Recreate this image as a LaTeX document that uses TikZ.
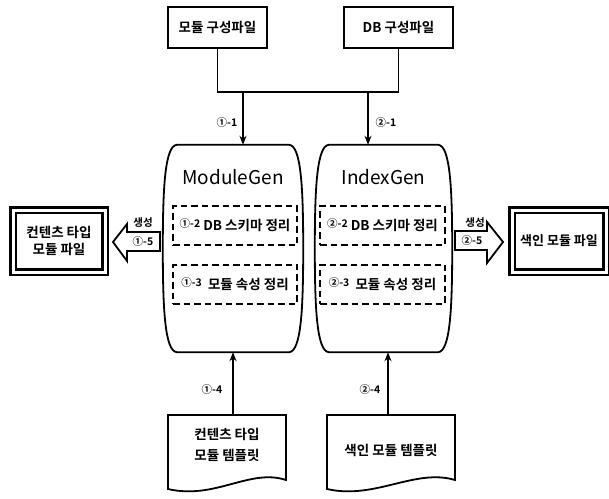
\documentclass[tikz,border=0pt]{standalone}
\usepackage{fontspec}
\newfontfamily\kr{Noto Sans CJK KR}[BoldFont={* Bold}]
\usetikzlibrary{arrows.meta}
\usetikzlibrary{calc}

\newcommand\kbf{\kr\bfseries\fontsize{13.5}{17}\selectfont}
\newcommand\ksm{\kr\bfseries\fontsize{10.5}{12}\selectfont}
% barrel outline round an empty node
\newcommand\drawbarrel[1]{%
  \draw[line width=1.8pt] ($(#1.north west)+(14,0)$) -- ($(#1.north east)+(-14,0)$)
    .. controls ($(#1.north east)+(-2,1)$) and ($(#1.east)+(0,-60)$) .. (#1.east)
    .. controls ($(#1.east)+(0,60)$) and ($(#1.south east)+(-2,-1)$) .. ($(#1.south east)+(-14,0)$)
    -- ($(#1.south west)+(14,0)$)
    .. controls ($(#1.south west)+(2,-1)$) and ($(#1.west)+(0,60)$) .. (#1.west)
    .. controls ($(#1.west)+(0,-60)$) and ($(#1.north west)+(2,1)$) .. cycle;}

\tikzset{
  filebox/.style={draw, line width=1.8pt, minimum height=41pt, font=\kbf},
  outbox/.style={draw, double, line width=2.6pt, double distance=3pt, minimum height=62pt, inner sep=0pt, align=center, font=\kbf},
  stepbox/.style={draw, line width=2pt, dash pattern=on 6.5pt off 4pt, minimum height=39pt, font=\kbf},
  tag/.style={font=\ksm, inner sep=0pt},
  flow/.style={line width=1.6pt, -{Stealth[length=9pt,width=7pt]}},
  fat/.style={line width=1.8pt, fill=white, line join=miter},
}

\begin{document}
\begin{tikzpicture}[x=1pt,y=-1pt]
    \useasboundingbox (0,0) rectangle (609,498);
    % input files
    \node[filebox, minimum width=99pt] (conf) at (217.5,27.5) {모듈 구성파일};
    \node[filebox, minimum width=109pt] (dbconf) at (398.5,27.5) {DB 구성파일};
    % generators
    \node[minimum width=140pt, minimum height=207pt] (modgen) at (233,248.5) {};
    \node[minimum width=137pt, minimum height=207pt] (idxgen) at (383.5,248.5) {};
    \drawbarrel{modgen}
    \drawbarrel{idxgen}
    \node[font=\kr\fontsize{19}{22}\selectfont] (mgtitle) at (233,177) {ModuleGen};
    \node[font=\kr\fontsize{19}{22}\selectfont] (igtitle) at (383.5,177) {IndexGen};
    \node[stepbox, minimum width=124pt] (mg2) at (235,225.5) {\raisebox{3pt}{\ksm ①-2}\ DB 스키마 정리};
    \node[stepbox, minimum width=124pt] (mg3) at (235,284) {\raisebox{3pt}{\ksm ①-3}\ \ 모듈 속성 정리};
    \node[stepbox, minimum width=125pt] (ig2) at (382.5,225.5) {\raisebox{3pt}{\ksm ②-2}\ DB 스키마 정리};
    \node[stepbox, minimum width=125pt] (ig3) at (382.5,284) {\raisebox{3pt}{\ksm ②-3}\ \ 모듈 속성 정리};
    % bus from the input files
    \coordinate (bus) at (0,92);
    \coordinate (b1) at (243,92);
    \coordinate (b2) at (368,92);
    \draw[line width=1.6pt] (conf.south) |- (dbconf.south |- bus) -- (dbconf.south);
    \draw[flow] (b1) -- (b1 |- modgen.north);
    \draw[flow] (b2) -- (b2 |- idxgen.north);
    \node[tag] (l11) at (227,123) {①-1};
    \node[tag] (l21) at (386,123) {②-1};
    % outputs
    \node[outbox, minimum width=92pt, font=\kr\bfseries\fontsize{13.5}{17}\selectfont] (ctbox) at (59,241) {컨텐츠 타입\\모듈 파일};
    \node[outbox, minimum width=94pt, font=\kr\bfseries\fontsize{13}{16}\selectfont] (ixbox) at (559,241) {색인 모듈 파일};
    \draw[fat] (160,232) -- (127,232) -- (127,224) -- (113,242) -- (127,261) -- (127,251) -- (160,251) -- cycle;
    \draw[fat] (455,231) -- (487,231) -- (487,222) -- (503,242) -- (487,263) -- (487,250) -- (455,250) -- cycle;
    \node[tag] (gen1) at (143,223) {생성};
    \node[tag] (l15) at (143,241.5) {①-5};
    \node[tag] (gen2) at (475,223) {생성};
    \node[tag] (l25) at (472,241) {②-5};
    % templates
    \draw[line width=1.8pt] (168,415) -- (286,415) -- (286,480)
        .. controls (250,468) and (215,500) .. (168,489) -- cycle;
    \draw[line width=1.8pt] (327,415) -- (455,415) -- (455,480)
        .. controls (415,468) and (375,500) .. (327,489) -- cycle;
    \node[font=\kr\bfseries\fontsize{13.5}{21}\selectfont, align=center] (tmpl1) at (227,445) {컨텐츠 타입\\모듈 템플릿};
    \node[font=\kbf] (tmpl2) at (391,450) {색인 모듈 템플릿};
    \coordinate (d1) at (233,415);
    \coordinate (d2) at (388,415);
    \draw[flow] (d1) -- (d1 |- modgen.south);
    \draw[flow] (d2) -- (d2 |- idxgen.south);
    \node[tag] (l14) at (212,390) {①-4};
    \node[tag] (l24) at (370,390) {②-4};
\end{tikzpicture}
\end{document}
